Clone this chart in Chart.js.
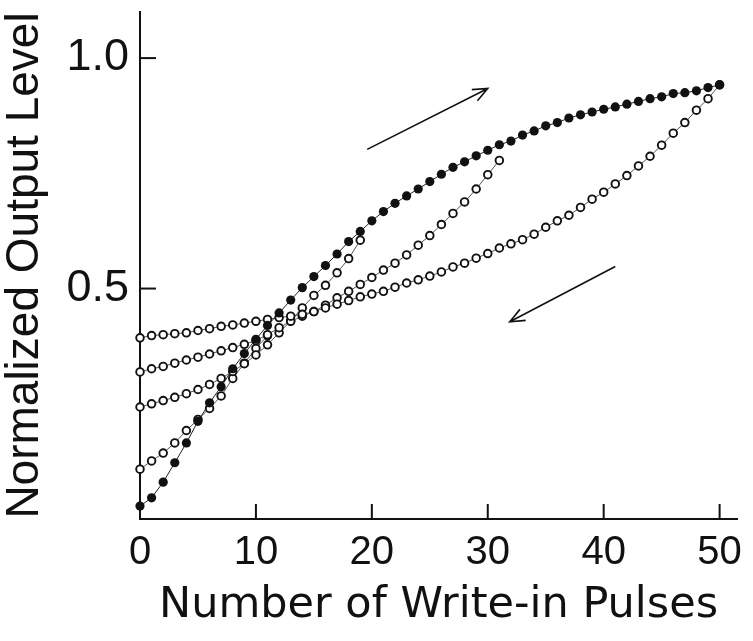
<!DOCTYPE html>
<html lang="en">
<head>
    <meta charset="UTF-8">
    <title>Normalized Output Level vs Write-in Pulses</title>
    <script src="https://cdn.jsdelivr.net/npm/chart.js"></script>
    <style>
        body { margin: 0; background: #fff; }
        .grafico { width: 753px; height: 641px; }
    </style>
</head>
<body>
    <div class="grafico">
        <canvas id="myChart"></canvas>
    </div>

<script>
    // numero de pulsos (eixo x)
    const pulses = [0,1,2,3,4,5,6,7,8,9,10,11,12,13,14,15,16,17,18,19,20,21,22,23,24,25,
                    26,27,28,29,30,31,32,33,34,35,36,37,38,39,40,41,42,43,44,45,46,47,48,49,50]

    // curva de escrita (bolinhas cheias)
    const levelUp = [0.028,0.046,0.080,0.122,0.165,0.212,0.252,0.287,0.326,0.359,0.390,0.420,0.447,0.475,0.502,
                     0.526,0.550,0.575,0.602,0.624,0.647,0.667,0.685,0.701,0.716,0.732,0.748,0.763,0.775,0.788,
                     0.800,0.812,0.820,0.833,0.842,0.853,0.860,0.870,0.877,0.883,0.889,0.894,0.900,0.906,0.912,
                     0.916,0.923,0.925,0.929,0.936,0.942]

    // curvas de volta (bolinhas abertas)
    const levelDownA = [0.393,0.398,0.400,0.402,0.404,0.409,0.413,0.418,0.421,0.425,0.429,0.433,0.437,0.440,0.444,
                        0.450,0.458,0.466,0.474,0.482,0.488,0.494,0.503,0.512,0.519,0.527,0.536,0.547,0.555,0.566,
                        0.576,0.588,0.597,0.606,0.618,0.633,0.647,0.659,0.676,0.694,0.709,0.727,0.745,0.766,0.787,
                        0.811,0.837,0.860,0.887,0.912,0.942]
    const levelDownB = [0.319,0.326,0.331,0.338,0.345,0.351,0.358,0.365,0.372,0.379,0.387,0.400,0.415,0.429,0.440,
                        0.450,0.464,0.480,0.494,0.509,0.524,0.540,0.555,0.573,0.594,0.615,0.639,0.663,0.688,0.716,
                        0.747,0.778]
    const levelDownC = [0.243,0.250,0.257,0.264,0.272,0.281,0.292,0.305,0.320,0.337,0.356,0.378,0.404,0.430,0.458,
                        0.485,0.507,0.534,0.565,0.605]
    const levelDownD = [0.108,0.126,0.143,0.165,0.192,0.216,0.240,0.267,0.305,0.338,0.370,0.398]

    const xTicks = [0,10,20,30,40,50]
    const yTicks = [0.5,1.0]

    // setas (inicio, fim) em coordenadas dos dados
    const setaSubida = [[19.6,0.802],[30.0,0.934]]
    const setaDescida = [[41.0,0.548],[31.9,0.428]]

    function pontos(valores) {
        return valores.map((v, i) => ({ x: pulses[i], y: v }))
    }

    function serieAberta(valores) {
        return {
            data: pontos(valores),
            borderColor: '#555',
            borderWidth: 1,
            pointRadius: 3.8,
            pointBorderWidth: 1.9,
            pointBorderColor: '#111',
            pointBackgroundColor: '#fff',
            clip: false
        }
    }

    // ticks para dentro + setas
    const marcas = {
        id: 'marcas',
        afterDraw(chart) {
            const ctx = chart.ctx
            const x = chart.scales.x
            const y = chart.scales.y
            ctx.save()
            ctx.strokeStyle = '#111'
            ctx.lineWidth = 2
            xTicks.forEach(v => {
                if (v === 0) return
                const px = x.getPixelForValue(v)
                ctx.beginPath()
                ctx.moveTo(px, y.bottom)
                ctx.lineTo(px, y.bottom - 15)
                ctx.stroke()
            })
            yTicks.forEach(v => {
                const py = y.getPixelForValue(v)
                ctx.beginPath()
                ctx.moveTo(x.left, py)
                ctx.lineTo(x.left + 16, py)
                ctx.stroke()
            })

            ctx.lineWidth = 1.6
            ;[setaSubida, setaDescida].forEach(seta => {
                const x1 = x.getPixelForValue(seta[0][0]), y1 = y.getPixelForValue(seta[0][1])
                const x2 = x.getPixelForValue(seta[1][0]), y2 = y.getPixelForValue(seta[1][1])
                const ang = Math.atan2(y2 - y1, x2 - x1)
                ctx.beginPath()
                ctx.moveTo(x1, y1)
                ctx.lineTo(x2, y2)
                ctx.moveTo(x2 - 16 * Math.cos(ang - 0.4), y2 - 16 * Math.sin(ang - 0.4))
                ctx.lineTo(x2, y2)
                ctx.lineTo(x2 - 16 * Math.cos(ang + 0.4), y2 - 16 * Math.sin(ang + 0.4))
                ctx.stroke()
            })
            ctx.restore()
        }
    }

    const data = {
        datasets: [
            {
                data: pontos(levelUp),
                borderColor: '#222',
                borderWidth: 1,
                pointRadius: 4.6,
                pointBorderWidth: 0,
                pointBackgroundColor: '#111',
                clip: false
            },
            serieAberta(levelDownA),
            serieAberta(levelDownB),
            serieAberta(levelDownC),
            serieAberta(levelDownD)
        ]
    }

    const config = {
        type: 'line',
        data: data,
        plugins: [marcas],
        options: {
            responsive: true,
            maintainAspectRatio: false,
            animation: false,
            layout: { padding: { top: 12, right: 16, left: 0, bottom: 0 } },
            plugins: {
                legend: { display: false },
                tooltip: { enabled: false }
            },
            scales: {
                x: {
                    type: 'linear',
                    min: 0,
                    max: 51.5,
                    afterBuildTicks: s => { s.ticks = xTicks.map(v => ({ value: v })) },
                    afterFit: s => { s.height = 122 },
                    grid: { drawOnChartArea: false, drawTicks: false },
                    border: { color: '#111', width: 2 },
                    ticks: {
                        color: '#111',
                        padding: 10,
                        maxRotation: 0,
                        font: { family: 'Liberation Sans', size: 40 }
                    },
                    title: {
                        display: true,
                        text: 'Number of Write-in Pulses',
                        color: '#111',
                        padding: { top: 0, bottom: 14 },
                        font: { family: 'DejaVu Sans', size: 43, lineHeight: 1 }
                    }
                },
                y: {
                    min: 0,
                    max: 1.1,
                    afterBuildTicks: s => { s.ticks = yTicks.map(v => ({ value: v })) },
                    afterFit: s => {
                        s.width = 140
                        s.paddingTop = 0
                        s.paddingBottom = 0
                    },
                    grid: { drawOnChartArea: false, drawTicks: false },
                    border: { color: '#111', width: 2 },
                    ticks: {
                        color: '#111',
                        padding: 11,
                        font: { family: 'Liberation Sans', size: 45 },
                        callback: v => v.toFixed(1)
                    },
                    title: {
                        display: true,
                        text: 'Normalized Output Level',
                        color: '#111',
                        padding: { top: 2, bottom: 0 },
                        font: { family: 'Liberation Sans', size: 46, lineHeight: 1 }
                    }
                }
            }
        }
    }

    const myChart = new Chart(document.getElementById('myChart'), config)
</script>
</body>
</html>
